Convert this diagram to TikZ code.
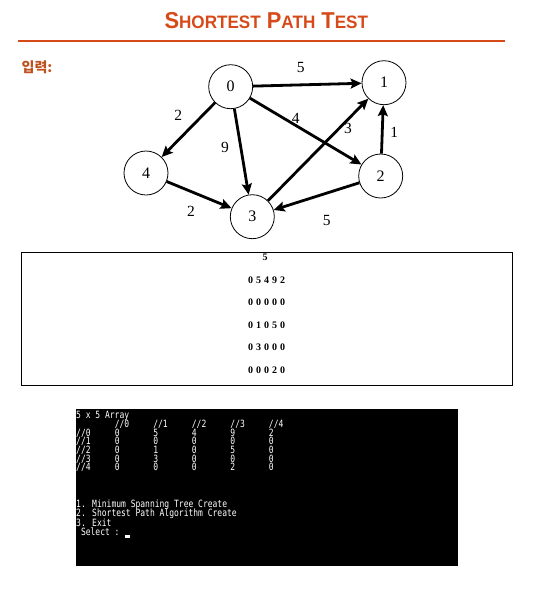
\documentclass[tikz,border=0pt]{standalone}
\usepackage{fontspec}
\setmainfont{Liberation Serif}
\newfontfamily\titlefont[FakeStretch=0.95]{Liberation Sans}
\newfontfamily\krfont{Noto Sans CJK KR}
\newfontfamily\termfont[FakeStretch=0.8]{DejaVu Sans Mono}
\usetikzlibrary{arrows.meta}
\definecolor{titlered}{RGB}{214,74,26}
\definecolor{labelbrown}{RGB}{190,82,30}
\newcommand\smcap[1]{{\fontsize{18}{18}\selectfont #1}}
\newcommand\tcell[1]{\makebox[38.56pt][l]{#1}}
\newcommand\dsp{\hspace{3pt}}
\begin{document}
\begin{tikzpicture}[x=1pt,y=-1pt,
  vert/.style={circle,draw,line width=0.8pt,minimum size=44pt,inner sep=0pt,font=\fontsize{16}{16}\selectfont},
  edge/.style={line width=2.8pt,-{Stealth[length=11pt,width=10pt,inset=2pt]}},
  wlabel/.style={font=\fontsize{15.5}{15.5}\selectfont,inner sep=0pt},
  matrow/.style={font=\bfseries\fontsize{10}{10}\selectfont,inner sep=0pt},
  term/.style={font=\termfont\fontsize{10}{10}\selectfont,text=white,anchor=base west,inner sep=0pt}]
\useasboundingbox (0,0) rectangle (533,611);

% title
\node[anchor=base,text=titlered,inner sep=0pt] (title) at (266.3,28.3)
  {\titlefont\bfseries\fontsize{23}{23}\selectfont S\smcap{HORTEST} P\smcap{ATH} T\smcap{EST}};
\draw[titlered,line width=2pt] (18,40.7) -- (505,40.7);

\node[anchor=west,text=labelbrown,inner sep=0pt] (inp) at (21.5,67.5) {\krfont\bfseries\fontsize{14}{14}\selectfont 입력:};

% graph
\node[vert] (n0) at (230.7,86.7) {0};
\node[vert] (n1) at (384,82.7) {1};
\node[vert] (n2) at (380.7,176) {2};
\node[vert] (n3) at (252.3,216.7) {3};
\node[vert] (n4) at (146,173) {4};

\draw[edge] (n0) -- (n1);
\draw[edge] (n0) -- (n4);
\draw[edge] (n0) -- (n3);
\draw[edge] (n0) -- (n2);
\draw[edge] (n3) -- (n1);
\draw[edge] (n2) -- (n1);
\draw[edge] (n4) -- (n3);
\draw[edge] (n2) -- (n3);

\node[wlabel] (w01) at (300.7,67.3) {5};
\node[wlabel] (w04) at (178.3,115) {2};
\node[wlabel] (w03) at (225,147.3) {9};
\node[wlabel] (w02) at (295.7,118.3) {4};
\node[wlabel] (w31) at (348,128.3) {3};
\node[wlabel] (w21) at (394.3,132.7) {1};
\node[wlabel] (w43) at (191,211.7) {2};
\node[wlabel] (w23) at (326.7,220.7) {5};

% input box
\draw[line width=0.8pt] (21,252) rectangle (512,385.5);
\node[matrow] (r0) at (265,257.7) {5};
\node[matrow] (r1) at (266.7,280) {0\dsp5\dsp4\dsp9\dsp2};
\node[matrow] (r2) at (266.7,302.3) {0\dsp0\dsp0\dsp0\dsp0};
\node[matrow] (r3) at (266.7,325) {0\dsp1\dsp0\dsp5\dsp0};
\node[matrow] (r4) at (266.7,347.3) {0\dsp3\dsp0\dsp0\dsp0};
\node[matrow] (r5) at (266.7,370) {0\dsp0\dsp0\dsp2\dsp0};

% terminal
\node[fill=black,minimum width=382pt,minimum height=157pt,anchor=north west,inner sep=0pt] (termbg) at (76,409) {};
\node[term] (t0) at (76,418.6) {5 x 5 Array};
\node[term] (t1) at (76,427.2) {\tcell{}\tcell{//0}\tcell{//1}\tcell{//2}\tcell{//3}//4};
\node[term] (t2) at (76,436.2) {\tcell{//0}\tcell{0}\tcell{5}\tcell{4}\tcell{9}2};
\node[term] (t3) at (76,444.9) {\tcell{//1}\tcell{0}\tcell{0}\tcell{0}\tcell{0}0};
\node[term] (t4) at (76,453.5) {\tcell{//2}\tcell{0}\tcell{1}\tcell{0}\tcell{5}0};
\node[term] (t5) at (76,462.0) {\tcell{//3}\tcell{0}\tcell{3}\tcell{0}\tcell{0}0};
\node[term] (t6) at (76,470.5) {\tcell{//4}\tcell{0}\tcell{0}\tcell{0}\tcell{2}0};
\node[term] (m1) at (76,507.7) {1. Minimum Spanning Tree Create};
\node[term] (m2) at (76,516.7) {2. Shortest Path Algorithm Create};
\node[term] (m3) at (76,526.0) {3. Exit};
\node[term] (m4) at (80.8,535.7) {Select :};
\fill[white] (125,535) rectangle (130.3,537.6);
\end{tikzpicture}
\end{document}
